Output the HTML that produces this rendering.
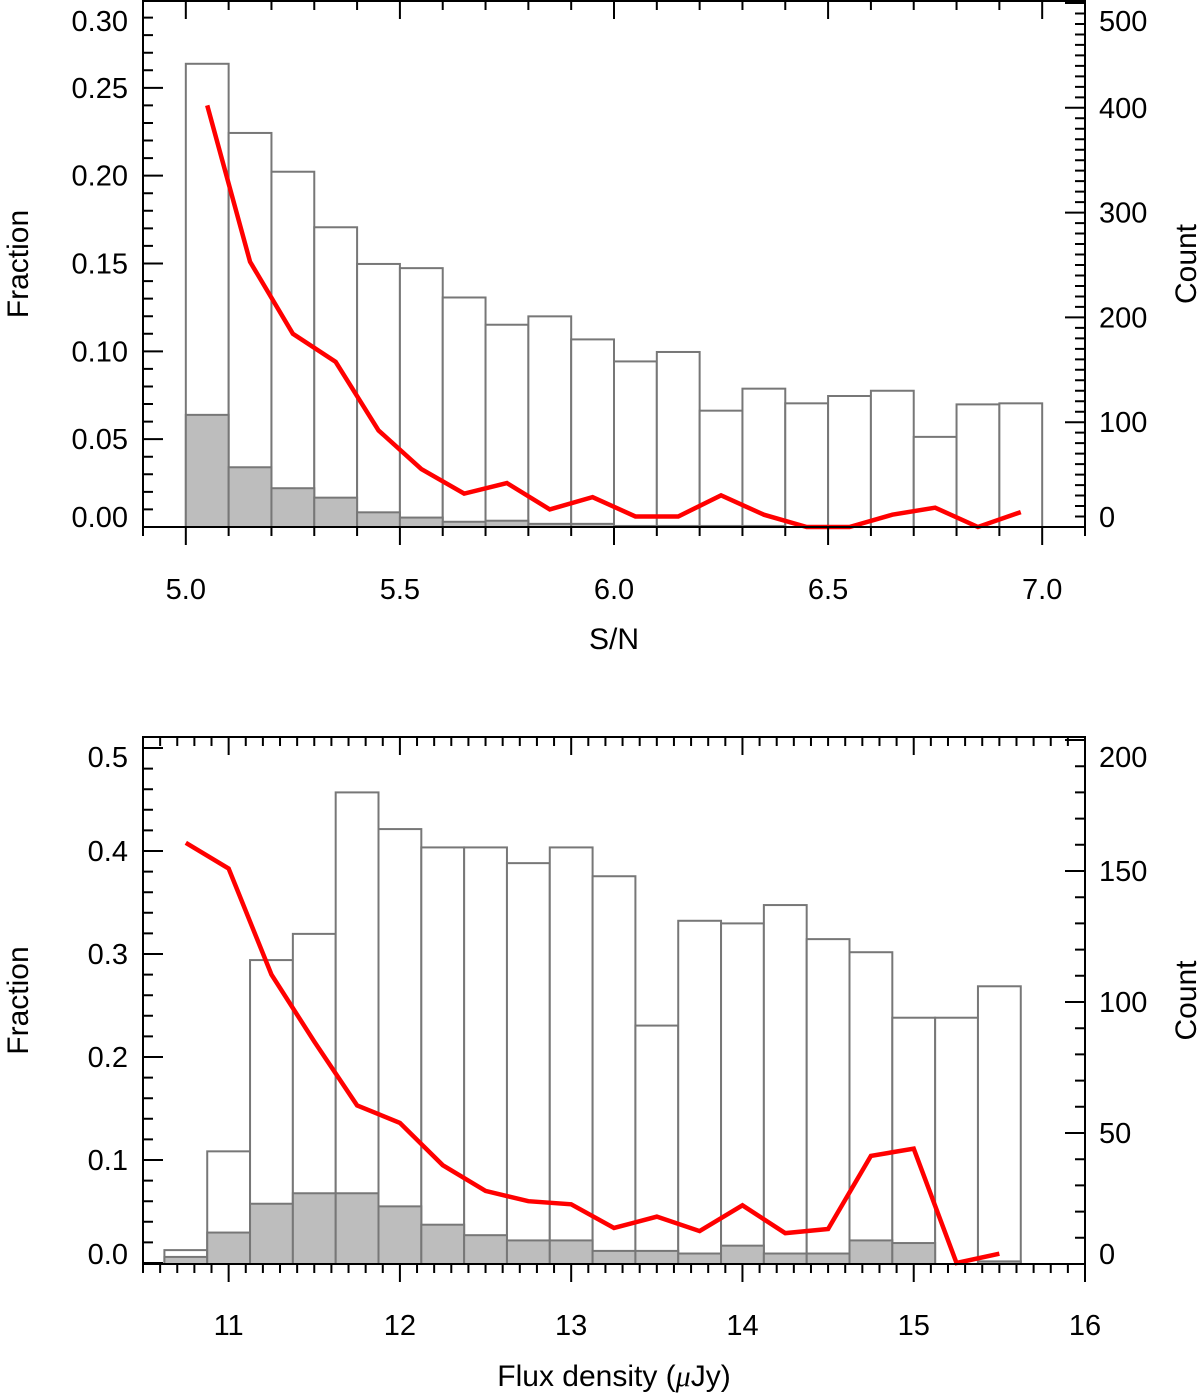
<!DOCTYPE html>
<html><head><meta charset="utf-8"><style>
html,body{margin:0;padding:0;background:#fff;}
svg{display:block;font-family:"Liberation Sans",Arial,sans-serif;}
</style></head><body>
<svg id="chart" width="1200" height="1396" viewBox="0 0 1200 1396"></svg>
<script>
// ---- Top panel data (S/N) ----
const snBinStarts = [5.0,5.1,5.2,5.3,5.4,5.5,5.6,5.7,5.8,5.9,6.0,6.1,6.2,6.3,6.4,6.5,6.6,6.7,6.8,6.9];
const snTotalCounts = [442,376,339,286,251,247,219,193,201,179,158,167,111,132,118,125,130,86,117,118];
const snSubCounts = [107,57,37,28,14,9,5,6,3,3,1,1,1,1,0,0,0,0,0,0];
const snFractions = [0.240,0.151,0.110,0.094,0.055,0.033,0.019,0.025,0.010,0.017,0.006,0.006,0.018,0.007,0,0,0.007,0.011,0,0.0085];
const snXTicks = ["5.0","5.5","6.0","6.5","7.0"];
const snFracTicks = ["0.00","0.05","0.10","0.15","0.20","0.25","0.30"];
const snCountTicks = ["0","100","200","300","400","500"];
// ---- Bottom panel data (Flux) ----
const fxBinStarts = [10.625,10.875,11.125,11.375,11.625,11.875,12.125,12.375,12.625,12.875,13.125,13.375,13.625,13.875,14.125,14.375,14.625,14.875,15.125,15.375];
const fxTotalCounts = [5.3,43,116,126,180,166,159,159,153,159,148,91,131,130,137,124,119,94,94,106];
const fxSubCounts = [2.7,12,23,27,27,22,15,11,9,9,5,5,4,7,4,4,9,8,0,1];
const fxFractions = [0.408,0.383,0.280,0.215,0.153,0.136,0.095,0.070,0.060,0.057,0.034,0.045,0.031,0.056,0.029,0.033,0.104,0.111,0,0.009];
const fxXTicks = ["11","12","13","14","15","16"];
const fxFracTicks = ["0.0","0.1","0.2","0.3","0.4","0.5"];
const fxCountTicks = ["0","50","100","150","200"];

const NS="http://www.w3.org/2000/svg";
const svg=document.getElementById('chart');
function mk(tag,attrs,parent){const e=document.createElementNS(NS,tag);for(const k in attrs)e.setAttribute(k,attrs[k]);(parent||svg).appendChild(e);return e;}

function panel(cfg){
  const g=mk('g',{});
  
  
  const L=143,R=1085,T=cfg.top,B=cfg.bottom;
  const xs=v=>L+(v-cfg.xmin)/(cfg.xmax-cfg.xmin)*(R-L);
  const yf=v=>cfg.f0+(cfg.f1-cfg.f0)*(v-cfg.fmin)/(cfg.fmax-cfg.fmin);
  const yc=v=>cfg.c0+(cfg.c1-cfg.c0)*(v-cfg.cmin)/(cfg.cmax-cfg.cmin);
  cfg.starts.forEach((s,i)=>{
    const x0=xs(s),x1=xs(s+cfg.bw);
    const r=mk('rect',{x:x0,y:yc(cfg.total[i]),width:x1-x0,height:Math.max(0,yc(0)-yc(cfg.total[i])),fill:'#fff',stroke:'#777','stroke-width':2},g);
    
    
  });
  cfg.starts.forEach((s,i)=>{
    if(cfg.sub[i]<=0)return;
    const x0=xs(s),x1=xs(s+cfg.bw);
    const r=mk('rect',{x:x0,y:yc(cfg.sub[i]),width:x1-x0,height:yc(0)-yc(cfg.sub[i]),fill:'#bdbdbd',stroke:'#777','stroke-width':2},g);
    
    
  });
  const pts=cfg.starts.map((s,i)=>xs(s+cfg.bw/2)+','+yf(cfg.frac[i])).join(' ');
  const pl=mk('polyline',{points:pts,fill:'none',stroke:'#f00','stroke-width':4.5,'stroke-linejoin':'miter'},g);
  
  
  const fr=mk('rect',{x:L,y:T,width:R-L,height:B-T,fill:'none',stroke:'#000','stroke-width':2},g);
  
  
  let tk='';
  for(let v=cfg.xmin;v<=cfg.xmax+1e-9;v+=cfg.xminor){
    const vv=Math.round(v/cfg.xminor)*cfg.xminor;
    const isMaj=Math.abs(vv/cfg.xmajor-Math.round(vv/cfg.xmajor))<1e-6;
    const x=xs(vv),len=isMaj?18:9;
    tk+=`M${x},${B}v${len}M${x},${T}v${len}`;
  }
  cfg.xticks.forEach(t=>{
    const x=xs(parseFloat(t));
    const tx=mk('text',{x:x,y:cfg.xlabY,'font-size':29,'text-anchor':'middle'},g);tx.textContent=t;
    
    
  });
  for(let v=cfg.fmin;v<=cfg.fmax+1e-9;v+=cfg.fminor){
    const vv=Math.round(v/cfg.fminor)*cfg.fminor;
    const isMaj=Math.abs(vv/cfg.fmajor-Math.round(vv/cfg.fmajor))<1e-6;
    const y=yf(vv);tk+=`M${L},${y}h${isMaj?20:10}`;
  }
  cfg.fticks.forEach(t=>{
    let y=yf(parseFloat(t))+10;
    y=Math.max(T+30,Math.min(B,y));
    const tx=mk('text',{x:128,y:y,'font-size':29,'text-anchor':'end'},g);tx.textContent=t;
    
    
  });
  for(let v=cfg.cmin;v<=cfg.cmax+1e-9;v+=cfg.cminor){
    const vv=Math.round(v/cfg.cminor)*cfg.cminor;
    const isMaj=Math.abs(vv/cfg.cmajor-Math.round(vv/cfg.cmajor))<1e-6;
    const y=yc(vv);if(y<T-0.5)continue;tk+=`M${R},${y}h${isMaj?-20:-10}`;
  }
  cfg.cticks.forEach(t=>{
    let y=yc(parseFloat(t))+10;
    y=Math.max(T+30,Math.min(B,y));
    const tx=mk('text',{x:1099,y:y,'font-size':29,'text-anchor':'start'},g);tx.textContent=t;
    
    
  });
  const tp=mk('path',{d:tk,stroke:'#000','stroke-width':2,fill:'none'},g);
  
  
  const cy=(T+B)/2;
  let t1=mk('text',{x:0,y:0,'font-size':30,'text-anchor':'middle',transform:`translate(28,${cy}) rotate(-90)`},g);t1.textContent='Fraction';
  
  
  let t2=mk('text',{x:0,y:0,'font-size':30,'text-anchor':'middle',transform:`translate(1196,${cy}) rotate(-90)`},g);t2.textContent='Count';
  
  
  let t3=mk('text',{x:614,y:cfg.titleY,'font-size':30,'text-anchor':'middle'},g);t3.innerHTML=cfg.xtitle;
  
  
}

panel({name:'sn-panel',top:1,bottom:527,xmin:4.9,xmax:7.1,xmajor:0.5,xminor:0.1,bw:0.1,
  f0:527,f1:0,fmin:0,fmax:0.30,fmajor:0.05,fminor:0.01,
  c0:527,c1:3,cmin:0,cmax:500,cmajor:100,cminor:10,
  starts:snBinStarts,total:snTotalCounts,sub:snSubCounts,frac:snFractions,
  xticks:snXTicks,fticks:snFracTicks,cticks:snCountTicks,xlabY:599,titleY:649,xtitle:'S/N'});
panel({name:'flux-panel',top:737,bottom:1264,xmin:10.5,xmax:16,xmajor:1,xminor:0.1,bw:0.25,
  f0:1263,f1:748,fmin:0,fmax:0.5,fmajor:0.1,fminor:0.02,
  c0:1264,c1:740,cmin:0,cmax:200,cmajor:50,cminor:10,
  starts:fxBinStarts,total:fxTotalCounts,sub:fxSubCounts,frac:fxFractions,
  xticks:fxXTicks,fticks:fxFracTicks,cticks:fxCountTicks,xlabY:1335,titleY:1386,
  xtitle:'Flux density (<tspan font-style="italic" font-family="Liberation Serif">μ</tspan>Jy)'});
</script>
</body></html>
